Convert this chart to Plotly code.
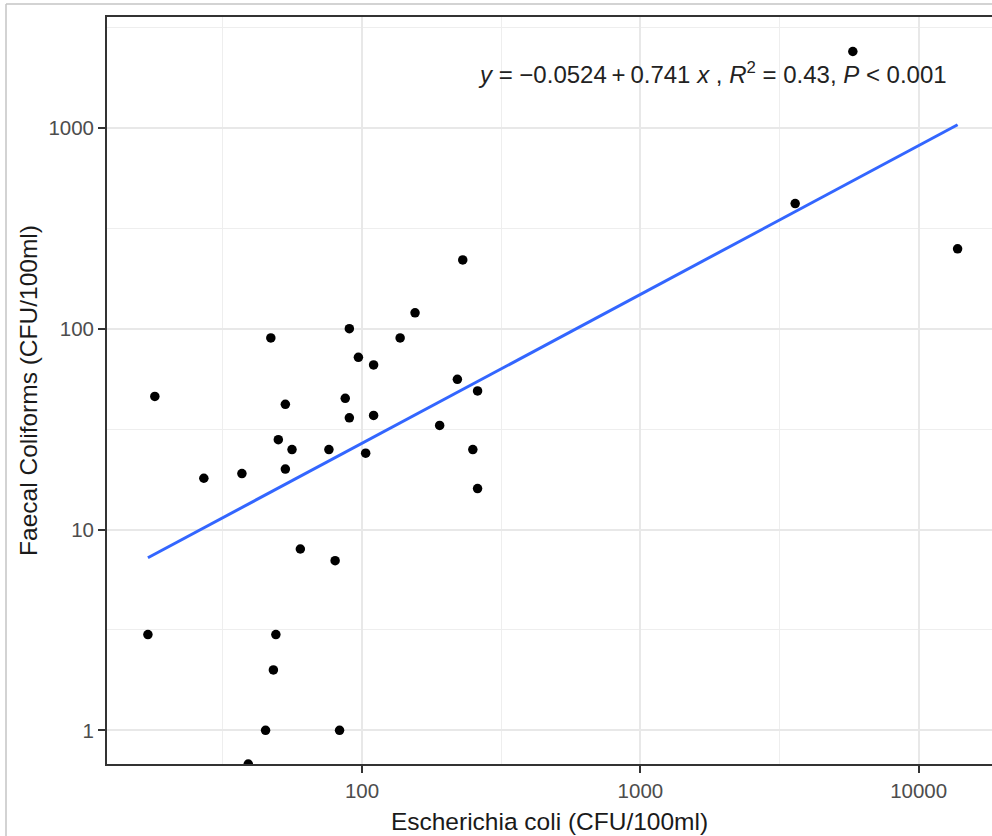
import numpy as np
import plotly.graph_objects as go

# Data
ecoli = [5800, 3600, 13800, 230, 155, 90, 47, 137, 97, 110, 220, 260, 18, 87, 53,
         110, 90, 190, 50, 56, 76, 250, 103, 53, 37, 27, 260, 60, 80, 17, 49, 48,
         45, 83, 39]
faecal = [2400, 420, 250, 220, 120, 100, 90, 90, 72, 66, 56, 49, 46, 45, 42,
          37, 36, 33, 28, 25, 25, 25, 24, 20, 19, 18, 16, 8, 7, 3, 3, 2,
          1, 1, 0.68]

# Fitted regression (log10 space), as printed on the chart
intercept = -0.0524
slope = 0.741
eq_text = ("<i>y</i> = \u22120.0524\u2009+\u20090.741 <i>x</i> , <i>R</i><sup>2</sup> = 0.43, "
           "<i>P</i> &lt; 0.001")

x_ticks = [100, 1000, 10000]
y_ticks = [1, 10, 100, 1000]
x_minor = [31.62, 316.2, 3162.3]
y_minor = [3.162, 31.62, 316.2, 3162.3]

fit_x = np.logspace(np.log10(min(ecoli)), np.log10(max(ecoli)), 60)
fit_y = 10 ** (intercept + slope * np.log10(fit_x))

FONT = "Liberation Sans, Arial, sans-serif"

fig = go.Figure()
fig.add_trace(go.Scatter(
    x=fit_x, y=fit_y, mode="lines",
    line=dict(color="#3366FF", width=3), hoverinfo="skip", showlegend=False))
fig.add_trace(go.Scatter(
    x=ecoli, y=faecal, mode="markers",
    marker=dict(color="black", size=9.5), showlegend=False))

fig.add_annotation(
    x=0.684, y=0.9245, xref="paper", yref="paper", text=eq_text,
    showarrow=False, font=dict(family=FONT, size=24, color="#222222"),
    xanchor="center", yanchor="middle")

# outer frame lines (screenshot border)
W, H = 992, 836
L, R, T, B = 107, 0, 17, 72
pw, ph = W - L - R, H - T - B
def px(xp):
    return (xp - L) / pw
def py(yp):
    return 1 - (yp - T) / ph
fig.add_shape(type="line", xref="paper", yref="paper",
              x0=px(6), x1=px(6), y0=py(4), y1=py(840),
              line=dict(color="#C4C4C4", width=1.5))
fig.add_shape(type="line", xref="paper", yref="paper",
              x0=px(6), x1=px(1000), y0=py(4), y1=py(4),
              line=dict(color="#C4C4C4", width=1.5))

axis_common = dict(
    type="log", showgrid=True, gridcolor="#E8E8E8", gridwidth=1.8,
    zeroline=False, ticks="outside", ticklen=7, tickwidth=1.6,
    tickcolor="#333333", showline=True, linecolor="#333333", linewidth=1.8,
    tickfont=dict(family=FONT, size=20.5, color="#4D4D4D"),
)

fig.update_xaxes(
    **axis_common,
    range=[1.0834, 4.2635],
    tickvals=x_ticks, ticktext=[str(v) for v in x_ticks],
    mirror=True,
    minor=dict(tickmode="array", tickvals=x_minor, showgrid=True,
               gridcolor="#EEEEEE", gridwidth=1.3, ticks=""),
    title=dict(text="Escherichia coli (CFU/100ml)",
               font=dict(family=FONT, size=24.5, color="#1A1A1A"), standoff=12),
)
fig.update_yaxes(
    **axis_common,
    range=[np.log10(0.68), 3.552],
    tickvals=y_ticks, ticktext=[str(v) for v in y_ticks],
    mirror=False,
    minor=dict(tickmode="array", tickvals=y_minor, showgrid=True,
               gridcolor="#EEEEEE", gridwidth=1.3, ticks=""),
    title=dict(text="Faecal Coliforms (CFU/100ml)",
               font=dict(family=FONT, size=24.5, color="#1A1A1A"), standoff=4),
)

fig.update_layout(
    width=W, height=H,
    margin=dict(l=L, r=R, t=T, b=B),
    paper_bgcolor="white", plot_bgcolor="white",
    font=dict(family=FONT),
)

fig.write_html("out.html")
